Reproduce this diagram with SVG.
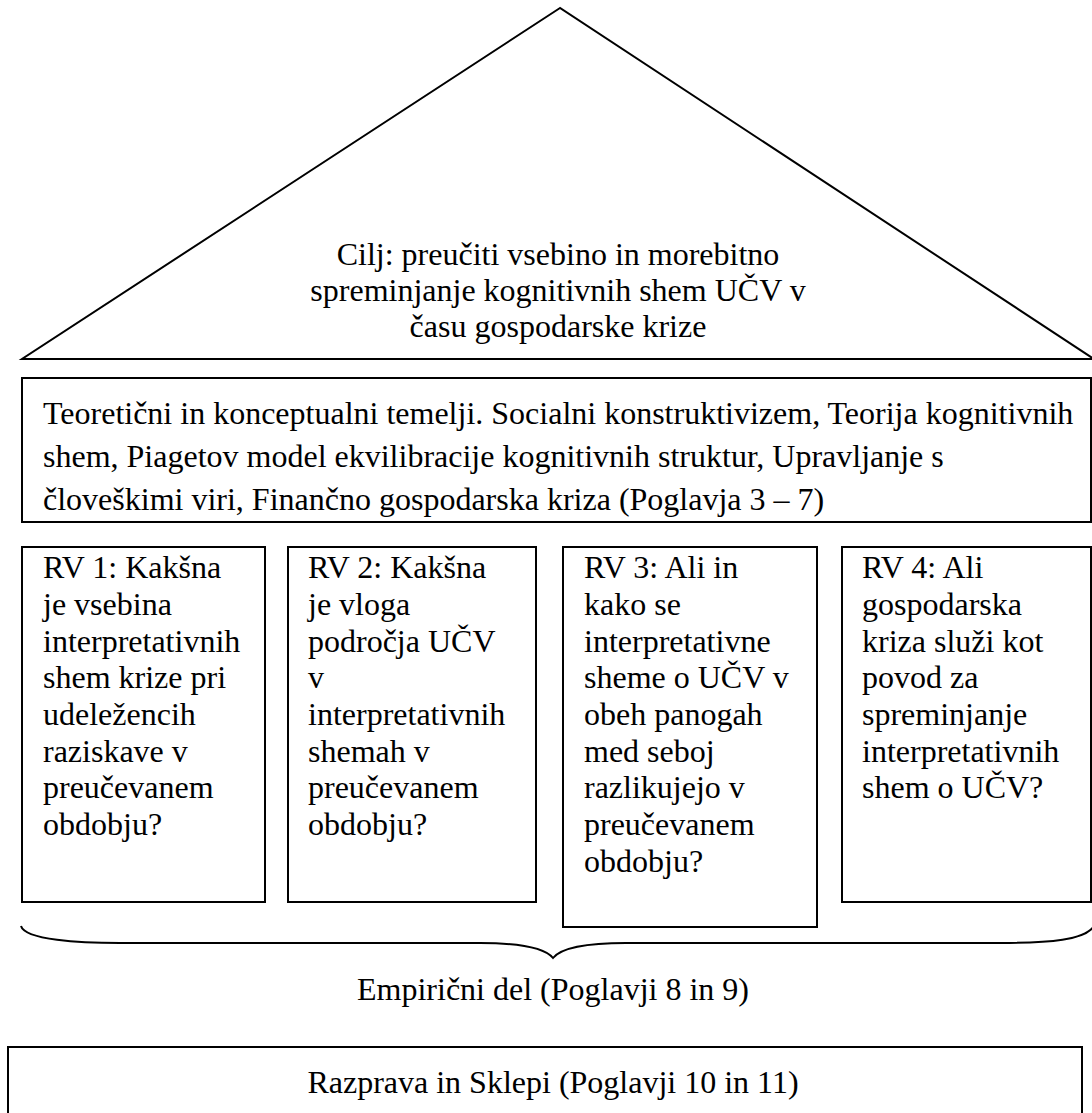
<svg xmlns="http://www.w3.org/2000/svg" width="1092" height="1113" viewBox="0 0 1092 1113">
<style>
.s{fill:#fff;stroke:#000;stroke-width:2}
.t{font-family:"Liberation Serif","Times New Roman",serif;font-size:32px;fill:#000}
.c{text-anchor:middle}
</style>
<rect width="1092" height="1113" fill="#fff"/>
<g id="goal">
<polygon class="s" points="560,8 22,359 1094,359"/>
<text class="t c" x="558" y="265">Cilj: preučiti vsebino in morebitno</text>
<text class="t c" x="558" y="301">spreminjanje kognitivnih shem UČV v</text>
<text class="t c" x="558" y="337">času gospodarske krize</text>
</g>
<g id="theory">
<rect class="s" x="22" y="378" width="1069" height="144"/>
<text class="t" x="43" y="424">Teoretični in konceptualni temelji. Socialni konstruktivizem, Teorija kognitivnih</text>
<text class="t" x="43" y="467">shem, Piagetov model ekvilibracije kognitivnih struktur, Upravljanje s</text>
<text class="t" x="43" y="510">človeškimi viri, Finančno gospodarska kriza (Poglavja 3 – 7)</text>
</g>
<g id="rv1">
<rect class="s" x="22" y="547" width="243" height="355"/>
<text class="t" x="43" y="578">RV 1: Kakšna</text>
<text class="t" x="43" y="615">je vsebina</text>
<text class="t" x="43" y="652">interpretativnih</text>
<text class="t" x="43" y="688">shem krize pri</text>
<text class="t" x="43" y="725">udeležencih</text>
<text class="t" x="43" y="762">raziskave v</text>
<text class="t" x="43" y="798">preučevanem</text>
<text class="t" x="43" y="835">obdobju?</text>
</g>
<g id="rv2">
<rect class="s" x="288" y="547" width="248" height="355"/>
<text class="t" x="308" y="578">RV 2: Kakšna</text>
<text class="t" x="308" y="615">je vloga</text>
<text class="t" x="308" y="652">področja UČV</text>
<text class="t" x="308" y="688">v</text>
<text class="t" x="308" y="725">interpretativnih</text>
<text class="t" x="308" y="762">shemah v</text>
<text class="t" x="308" y="798">preučevanem</text>
<text class="t" x="308" y="835">obdobju?</text>
</g>
<g id="rv3">
<rect class="s" x="563" y="547" width="254" height="380"/>
<text class="t" x="584" y="578">RV 3: Ali in</text>
<text class="t" x="584" y="615">kako se</text>
<text class="t" x="584" y="652">interpretativne</text>
<text class="t" x="584" y="688">sheme o UČV v</text>
<text class="t" x="584" y="725">obeh panogah</text>
<text class="t" x="584" y="762">med seboj</text>
<text class="t" x="584" y="798">razlikujejo v</text>
<text class="t" x="584" y="835">preučevanem</text>
<text class="t" x="584" y="872">obdobju?</text>
</g>
<g id="rv4">
<rect class="s" x="842" y="547" width="249" height="355"/>
<text class="t" x="862" y="578">RV 4: Ali</text>
<text class="t" x="862" y="615">gospodarska</text>
<text class="t" x="862" y="652">kriza služi kot</text>
<text class="t" x="862" y="688">povod za</text>
<text class="t" x="862" y="725">spreminjanje</text>
<text class="t" x="862" y="762">interpretativnih</text>
<text class="t" x="862" y="798">shem o UČV?</text>
</g>
<g id="connectors">
<path d="M21,926 C25,940 80,943 120,943 L480,943 C520,943 545,948 553,958 C561,948 586,943 626,943 L1000,943 C1050,943 1085,940 1094,926" fill="none" stroke="#000" stroke-width="2"/>
</g>
<g id="empirical">
<text class="t c" x="553" y="1000">Empirični del (Poglavji 8 in 9)</text>
</g>
<g id="discussion">
<rect class="s" x="8" y="1047" width="1074" height="80"/>
<text class="t c" x="553" y="1093">Razprava in Sklepi (Poglavji 10 in 11)</text>
</g>
</svg>
